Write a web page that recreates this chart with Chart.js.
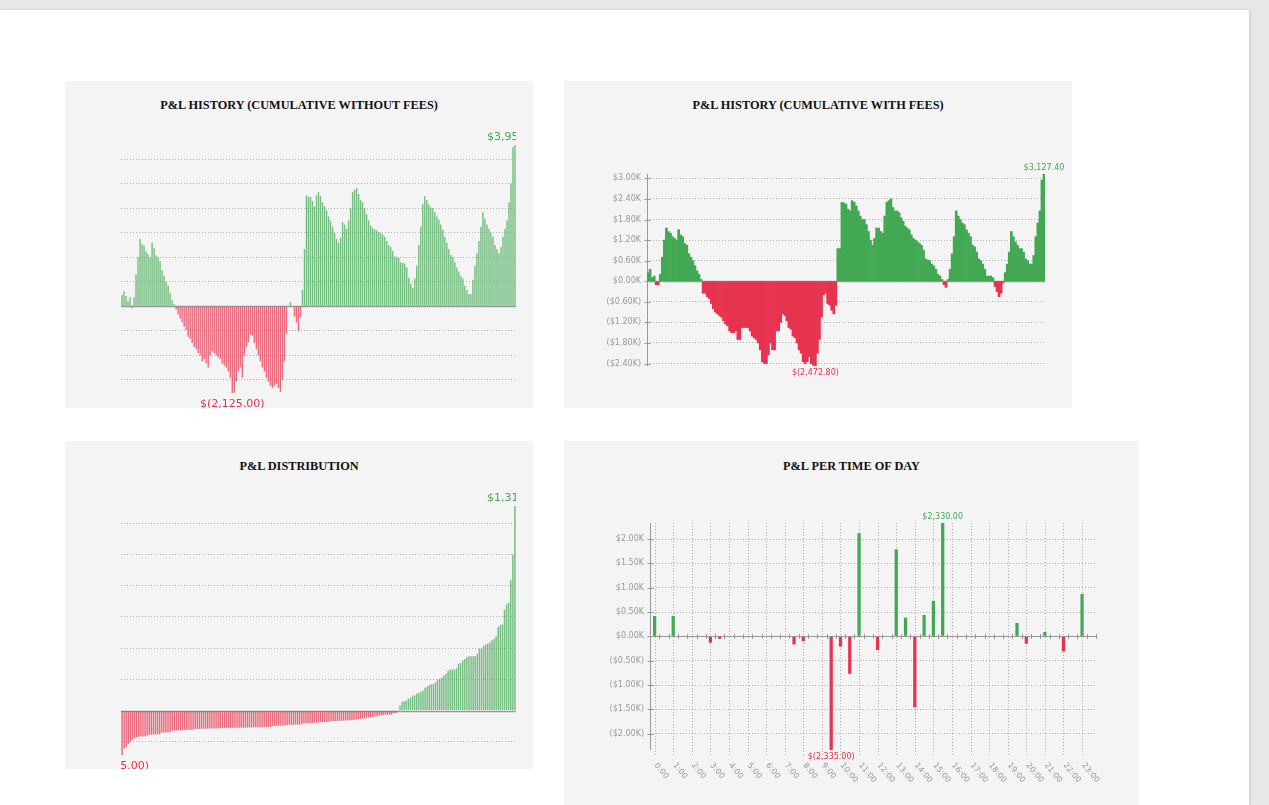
<!DOCTYPE html>
<html>
<head>
<meta charset="utf-8">
<script src="https://cdn.jsdelivr.net/npm/chart.js@4.4.0/dist/chart.umd.min.js"></script>
<style>
    html, body { margin: 0; padding: 0; }
    body { width: 1269px; height: 805px; background: #e8e8e8; position: relative; overflow: hidden; font-family: 'DejaVu Sans', sans-serif; }
    .page { position: absolute; left: 0; top: 10px; width: 1249px; height: 795px; background: #fff; box-shadow: 1px 0 3px rgba(0,0,0,0.15); }
    .panel { position: absolute; background: #f4f4f4; overflow: hidden; }
    .panel h3 { position: absolute; left: 0; right: 0; margin: 0; text-align: center; font: bold 12.3px 'Liberation Serif', serif; color: #111; }
    .panel canvas { position: absolute; left: 0; top: 0; }
</style>
</head>
<body>
<div class="page"></div>
<div class="panel" style="left:65px;top:81px;width:468px;height:327px"><h3 style="top:17px">P&amp;L HISTORY (CUMULATIVE WITHOUT FEES)</h3><canvas id="cumNoFees"></canvas></div>
<div class="panel" style="left:564px;top:81px;width:508px;height:327px"><h3 style="top:17px">P&amp;L HISTORY (CUMULATIVE WITH FEES)</h3><canvas id="cumFees"></canvas></div>
<div class="panel" style="left:65px;top:441px;width:468px;height:328px"><h3 style="top:18px">P&amp;L DISTRIBUTION</h3><canvas id="distribution"></canvas></div>
<div class="panel" style="left:564px;top:441px;width:575px;height:364px"><h3 style="top:18px">P&amp;L PER TIME OF DAY</h3><canvas id="timeOfDay"></canvas></div>
<script>
// values in $K
const cumWithoutFees = [0.27,0.37,0.25,0.12,0.22,-0.05,0.22,0.78,1.2,1.65,1.52,1.48,1.35,1.28,1.2,1.56,1.42,1.25,1.2,1.1,0.88,0.75,0.6,0.5,0.33,0.15,0.05,
    -0.08,-0.2,-0.3,-0.4,-0.5,-0.58,-0.75,-0.8,-0.9,-1.0,-1.05,-1.15,-1.2,-1.35,-1.3,-1.4,-1.5,-1.2,-1.1,-1.15,-1.2,-1.25,-1.3,-1.4,-1.45,-1.5,-1.6,-1.75,-2.125,-2.12,-1.85,-1.6,-1.5,-1.75,-1.2,-1.0,-0.88,-0.7,-0.72,-0.9,-1.05,-1.2,-1.35,-1.5,-1.6,-1.75,-1.85,-1.95,-2.0,-1.95,-1.9,-2.0,-2.1,-1.8,-1.35,-0.68,
    0.0,0.1,0.0,-0.25,-0.4,-0.6,-0.28,0.4,1.4,2.72,2.68,2.68,2.58,2.45,2.72,2.8,2.7,2.55,2.45,2.35,2.2,2.1,1.95,1.8,1.65,1.55,1.68,2.06,2.0,1.9,2.1,2.4,2.8,2.85,2.9,2.75,2.6,2.55,2.4,2.25,2.1,1.98,1.92,1.88,1.86,1.82,1.8,1.76,1.7,1.6,1.5,1.45,1.35,1.22,1.2,1.18,1.08,1.06,1.05,0.95,0.7,0.56,0.45,0.68,1.0,1.5,1.95,2.5,2.7,2.6,2.5,2.42,2.4,2.3,2.2,2.12,2.0,1.88,1.7,1.55,1.4,1.25,1.2,1.08,0.95,0.85,0.75,0.68,0.5,0.4,0.3,0.3,0.65,1.0,1.3,1.6,1.95,2.3,2.15,2.0,1.9,1.8,1.7,1.5,1.4,1.3,1.45,1.7,1.9,2.1,2.55,3.0,3.9,3.95];

const cumWithFees = [0.25,0.35,0.1,0.15,-0.1,-0.1,0.2,0.7,1.2,1.55,1.45,1.4,1.3,1.25,1.2,1.5,1.35,1.3,1.1,1.05,0.8,0.7,0.6,0.45,0.3,0.2,0.05,
    -0.35,-0.35,-0.45,-0.5,-0.65,-0.8,-0.9,-0.95,-1.0,-1.05,-1.15,-1.25,-1.3,-1.45,-1.5,-1.5,-1.45,-1.7,-1.7,-1.35,-1.35,-1.35,-1.35,-1.45,-1.6,-1.65,-1.7,-1.8,-2.0,-2.35,-2.4,-2.4,-2.15,-1.8,-2.0,-2.0,-1.45,-1.45,-1.2,-0.95,-1.0,-1.15,-1.35,-1.4,-1.6,-1.65,-1.8,-2.0,-2.1,-2.35,-2.4,-2.35,-2.2,-2.4,-2.45,-2.4728,-2.1,-1.7,-1.05,-0.4,-0.35,-0.65,-0.7,-0.85,-0.95,-0.7,
    0.95,0.95,2.3,2.28,2.25,2.1,2.05,2.35,2.3,2.2,2.05,1.9,1.8,1.8,1.65,1.45,1.2,1.05,1.25,1.55,1.55,1.45,1.4,1.9,2.3,2.35,2.4,2.15,2.05,2.05,2.0,1.85,1.75,1.6,1.55,1.5,1.35,1.25,1.2,1.15,1.1,1.05,0.9,0.65,0.62,0.6,0.5,0.45,0.35,0.2,0.15,0.05,-0.1,-0.18,0.05,0.35,0.8,1.3,2.05,1.9,1.8,1.7,1.65,1.5,1.4,1.3,1.05,1.0,0.85,0.65,0.6,0.5,0.35,0.15,0.15,0.15,0.1,-0.15,-0.3,-0.45,-0.35,-0.05,0.25,0.5,0.85,1.45,1.3,1.15,1.05,0.95,0.95,0.85,0.65,0.6,0.5,0.5,0.75,1.3,1.7,2.05,2.95,3.1274];

const tradeLosses = [-0.285,-0.244,-0.236,-0.214,-0.197,-0.188,-0.176,-0.171,-0.168,-0.167,-0.167,-0.166,-0.16,
    -0.156,-0.155,-0.154,-0.154,-0.153,-0.152,-0.142,-0.141,-0.141,-0.14,-0.14,
    -0.13,-0.129,-0.128,-0.128,-0.127,-0.126,-0.125,-0.124,-0.124,-0.123,-0.123,
    -0.119,-0.118,-0.118,-0.118,-0.117,-0.117,-0.116,-0.116,-0.116,-0.115,-0.115,-0.115,
    -0.112,-0.112,-0.112,-0.111,-0.111,-0.111,-0.111,-0.111,-0.11,-0.11,-0.11,-0.11,-0.11,-0.109,-0.109,-0.109,
    -0.108,-0.108,-0.107,-0.107,-0.107,-0.106,-0.106,-0.105,-0.104,
    -0.1,-0.099,-0.098,-0.098,-0.097,-0.096,
    -0.093,-0.093,-0.092,-0.092,-0.092,-0.091,-0.091,-0.09,-0.088,
    -0.083,-0.082,-0.081,-0.081,-0.08,-0.079,-0.078,
    -0.076,-0.075,-0.075,-0.074,-0.073,-0.072,
    -0.069,-0.068,-0.068,-0.067,-0.067,-0.066,
    -0.065,-0.064,-0.064,-0.063,-0.062,-0.06,
    -0.057,-0.056,-0.054,-0.05,-0.049,-0.047,-0.044,-0.043,-0.041,-0.037,-0.036,-0.034,
    -0.03,-0.029,-0.028,-0.028,-0.027,-0.026,-0.018,-0.016,-0.006];
const tradeWins = [0.032,0.056,0.06,0.064,0.075,0.08,0.096,0.097,0.107,0.113,0.12,0.128,0.146,0.154,0.161,0.167,0.171,0.182,0.197,0.203,0.21,0.225,0.236,0.253,0.262,0.262,0.262,0.27,0.3,0.304,0.321,0.33,0.343,0.347,0.347,0.347,0.348,0.364,0.396,0.396,0.413,0.424,0.428,0.437,0.45,0.458,0.475,0.535,0.548,0.552,0.647,0.68,0.69,0.835,1.0,1.31];
const distribution = tradeLosses.concat(tradeWins);

const hourSlots = ['0:00','0:30','1:00','1:30','2:00','2:30','3:00','3:30','4:00','4:30','5:00','5:30','6:00','6:30','7:00','7:30','8:00','8:30','9:00','9:30','10:00','10:30','11:00','11:30',
    '12:00','12:30','13:00','13:30','14:00','14:30','15:00','15:30','16:00','16:30','17:00','17:30','18:00','18:30','19:00','19:30','20:00','20:30','21:00','21:30','22:00','22:30','23:00','23:30'];
const pnlPerSlot = [0.42,0,0.42,0,0,0,-0.13,-0.05,0,0,0,0,0,0,0,-0.165,-0.1,-0.01,0,-2.335,-0.21,-0.77,2.12,0,
    -0.28,-0.01,1.79,0.385,-1.46,0.44,0.73,2.33,0,0,0,0,0,0,0,0.275,-0.15,0,0.09,0,-0.31,0,0.87,0];

const GREEN = '#43a853', RED = '#e6334f';
const GREEN_LIGHT = 'rgba(67,168,83,0.72)', RED_LIGHT = 'rgba(230,51,79,0.72)';
const FONT = "'DejaVu Sans', sans-serif";

function money(v) {
    const s = Math.abs(v * 1000).toLocaleString('en-US', { minimumFractionDigits: 2, maximumFractionDigits: 2 });
    return v < 0 ? '$(' + s + ')' : '$' + s;
}
function kTick(v) {
    const s = '$' + Math.abs(v).toFixed(2) + 'K';
    return v < 0 ? '(' + s + ')' : s;
}

// min / max labels on the bars
const extremaLabels = {
    id: 'extremaLabels',
    afterDatasetsDraw(chart, args, o) {
        const data = chart.data.datasets[0].data;
        const meta = chart.getDatasetMeta(0);
        const iMax = data.indexOf(Math.max(...data));
        const iMin = data.indexOf(Math.min(...data));
        const { ctx, chartArea } = chart;
        ctx.save();
        if (o.clip) {
            ctx.beginPath();
            ctx.rect(chartArea.left, 0, chartArea.width, chart.height);
            ctx.clip();
        }
        ctx.font = o.size + 'px ' + FONT;
        ctx.textAlign = 'center';
        ctx.fillStyle = GREEN;
        ctx.textBaseline = 'bottom';
        ctx.fillText(money(data[iMax]), meta.data[iMax].x, meta.data[iMax].y - o.gapTop);
        ctx.fillStyle = RED;
        ctx.textBaseline = 'top';
        ctx.fillText(money(data[iMin]), meta.data[iMin].x, meta.data[iMin].y + o.gapBottom);
        ctx.restore();
    }
};

// zero line, y axis line with cross ticks, and hour axis for the time-of-day chart
const axisLines = {
    id: 'axisLines',
    beforeDatasetsDraw(chart, args, o) {
        const { ctx, chartArea } = chart;
        const y = chart.scales.y;
        const x = chart.scales.x;
        ctx.save();
        if (o.hours) {
            ctx.strokeStyle = 'rgba(0,0,0,0.3)';
            ctx.lineWidth = 1;
            ctx.setLineDash([1, 2]);
            hourSlots.forEach((h, i) => {
                if (i % 2) return;
                const px = Math.round(x.getPixelForValue(i)) + 0.5;
                ctx.beginPath();
                ctx.moveTo(px, chartArea.top);
                ctx.lineTo(px, chartArea.bottom + 6);
                ctx.stroke();
            });
            ctx.setLineDash([]);
        }
        const zy = Math.round(y.getPixelForValue(0)) + 0.5;
        ctx.strokeStyle = '#999';
        ctx.lineWidth = o.zeroWidth || 1;
        ctx.beginPath();
        ctx.moveTo(chartArea.left, zy);
        ctx.lineTo(chartArea.right, zy);
        ctx.stroke();
        if (o.hours) {
            ctx.lineWidth = 1;
            hourSlots.forEach((h, i) => {
                const px = Math.round(x.getPixelForValue(i) + 4.7) + 0.5;
                ctx.beginPath();
                ctx.moveTo(px, zy - 2.5);
                ctx.lineTo(px, zy + 2.5);
                ctx.stroke();
            });
        }
        if (o.yLine) {
            const lx = Math.round(chartArea.left) + 0.5;
            ctx.strokeStyle = '#999';
            ctx.lineWidth = 1;
            ctx.beginPath();
            ctx.moveTo(lx, chartArea.top);
            ctx.lineTo(lx, chartArea.bottom);
            ctx.stroke();
            y.ticks.forEach(t => {
                const ty = Math.round(y.getPixelForValue(t.value)) + 0.5;
                ctx.beginPath();
                ctx.moveTo(lx - 3, ty);
                ctx.lineTo(lx + 3, ty);
                ctx.stroke();
            });
        }
        ctx.restore();
    },
    afterDraw(chart, args, o) {
        if (!o.hours) return;
        const { ctx, chartArea } = chart;
        const x = chart.scales.x;
        ctx.save();
        ctx.font = '8px ' + FONT;
        ctx.fillStyle = '#999';
        ctx.textAlign = 'left';
        ctx.textBaseline = 'middle';
        hourSlots.forEach((h, i) => {
            if (i % 2) return;
            ctx.save();
            ctx.translate(x.getPixelForValue(i) + 1, chartArea.bottom + 14);
            ctx.rotate(50 * Math.PI / 180);
            ctx.fillText(h, 0, 0);
            ctx.restore();
        });
        ctx.restore();
    }
};

function stepTicks(step) {
    return scale => {
        const ticks = [];
        for (let k = Math.ceil(scale.min / step - 1e-9); k <= Math.floor(scale.max / step + 1e-9); k++) {
            ticks.push({ value: +(k * step).toFixed(6) });
        }
        scale.ticks = ticks;
    };
}

function barChart(id, w, h, values, cfg) {
    const canvas = document.getElementById(id);
    canvas.width = w; canvas.height = h;
    canvas.style.width = w + 'px'; canvas.style.height = h + 'px';
    const light = cfg.light;
    return new Chart(canvas, {
        type: 'bar',
        data: {
            labels: cfg.labels || values.map((v, i) => i),
            datasets: [{
                data: values,
                backgroundColor: values.map(v => v < 0 ? (light ? RED_LIGHT : RED) : (light ? GREEN_LIGHT : GREEN)),
                borderWidth: 0,
                barPercentage: cfg.barPct,
                categoryPercentage: 1
            }]
        },
        options: {
            responsive: false,
            animation: false,
            devicePixelRatio: 1,
            layout: { padding: cfg.padding },
            plugins: {
                legend: { display: false },
                tooltip: { enabled: false },
                extremaLabels: cfg.labelsOpt,
                axisLines: cfg.axisOpt
            },
            scales: {
                x: { display: false, offset: true },
                y: {
                    min: cfg.min, max: cfg.max,
                    afterBuildTicks: stepTicks(cfg.step),
                    afterFit: cfg.axisWidth ? (s => { s.width = cfg.axisWidth; }) : undefined,
                    border: { display: false, dash: [1, 2] },
                    grid: {
                        color: c => c.tick && c.tick.value === 0 ? 'transparent' : 'rgba(0,0,0,0.28)',
                        drawTicks: false
                    },
                    ticks: {
                        display: !!cfg.axisWidth,
                        padding: 6,
                        color: '#999',
                        font: { family: FONT, size: 8 },
                        callback: v => kTick(v)
                    }
                }
            }
        },
        plugins: [extremaLabels, axisLines]
    });
}

barChart('cumNoFees', 468, 327, cumWithoutFees, {
    light: true, barPct: 0.7, min: -2.125, max: 3.95, step: 0.6,
    padding: { left: 56, right: 17, top: 64, bottom: 15 },
    labelsOpt: { clip: true, size: 11, gapTop: 2, gapBottom: 6 },
    axisOpt: { zeroWidth: 1.5 }
});

barChart('cumFees', 508, 327, cumWithFees, {
    light: false, barPct: 1, min: -2.4728, max: 3.1274, step: 0.6, axisWidth: 83,
    padding: { left: 0, right: 27, top: 93, bottom: 42 },
    labelsOpt: { clip: false, size: 8, gapTop: 2, gapBottom: 3 },
    axisOpt: { yLine: true, zeroWidth: 1.5 }
});

barChart('distribution', 468, 328, distribution, {
    light: true, barPct: 0.7, min: -0.285, max: 1.31, step: 0.2,
    padding: { left: 56, right: 17, top: 65, bottom: 14 },
    labelsOpt: { clip: true, size: 11, gapTop: 2, gapBottom: 6 },
    axisOpt: { zeroWidth: 1.5 }
});

barChart('timeOfDay', 575, 364, pnlPerSlot, {
    labels: hourSlots, light: false, barPct: 0.35, min: -2.335, max: 2.33, step: 0.5, axisWidth: 86,
    padding: { left: 0, right: 43, top: 82, bottom: 55 },
    labelsOpt: { clip: false, size: 8, gapTop: 2, gapBottom: 3 },
    axisOpt: { yLine: true, hours: true, zeroWidth: 1 }
});
</script>
</body>
</html>
